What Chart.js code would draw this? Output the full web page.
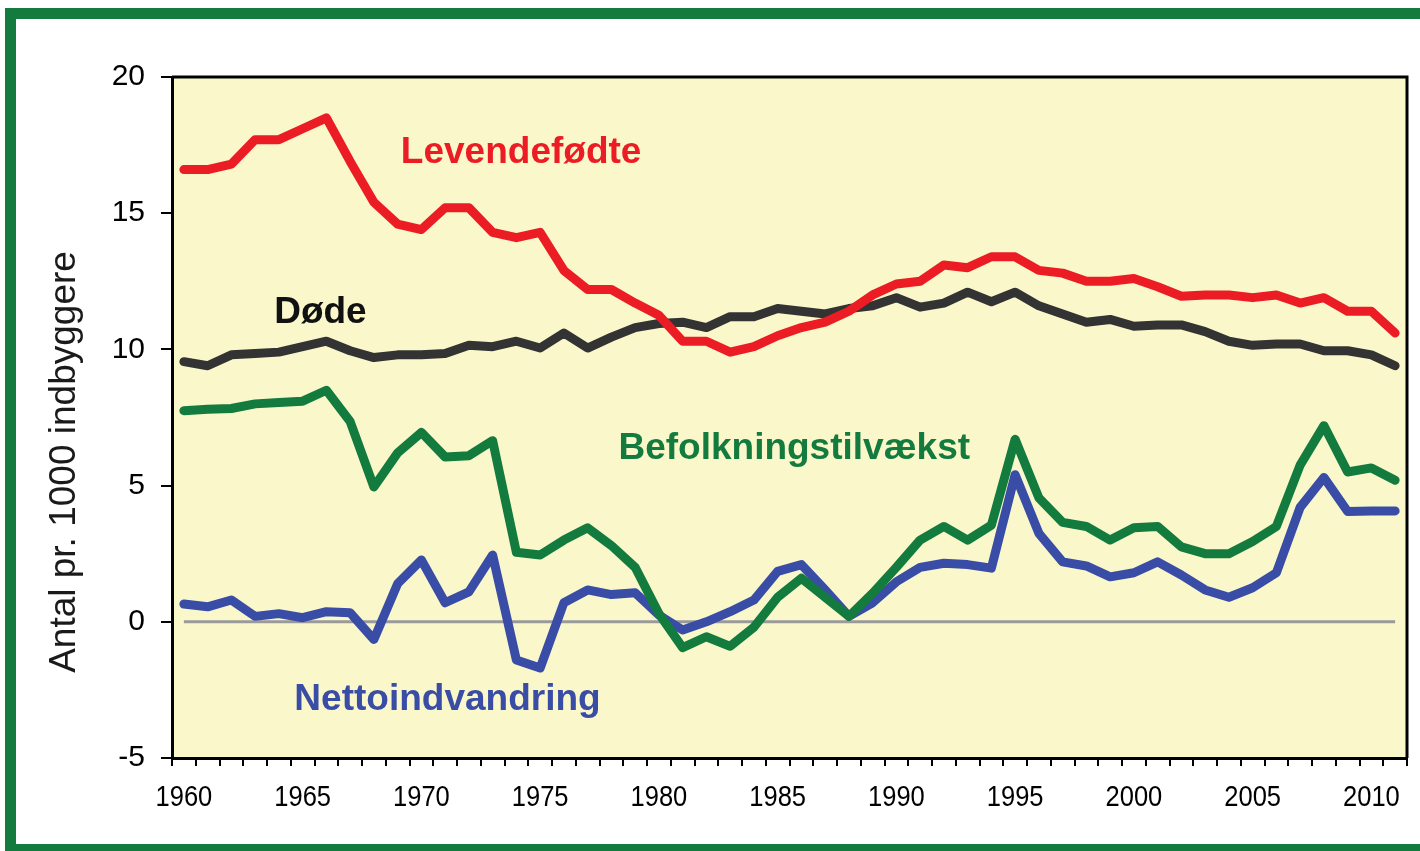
<!DOCTYPE html>
<html>
<head>
<meta charset="utf-8">
<script src="https://cdn.jsdelivr.net/npm/chart.js@4.4.1/dist/chart.umd.min.js"></script>
<style>
  html, body { margin: 0; padding: 0; background: #ffffff; overflow: hidden; }
  #frame { position: absolute; left: 5px; top: 8px; width: 1440px; height: 847px; box-sizing: border-box; border: 11px solid #137B3E; background: #ffffff; }
  #wrap { position: absolute; left: 0; top: 0; width: 1420px; height: 851px; }
</style>
</head>
<body>
<div id="frame"></div>
<div id="wrap"><canvas id="c" width="1420" height="851"></canvas></div>
<script>
// ---- Data (per 1000 inhabitants) ----
const years = [];
for (let y = 1960; y <= 2011; y++) years.push(String(y));

const levendefodte = [16.6,16.6,16.8,17.7,17.7,18.1,18.5,16.9,15.4,14.6,14.4,15.2,15.2,14.3,14.1,14.3,12.9,12.2,12.2,11.7,11.25,10.3,10.3,9.9,10.1,10.5,10.8,11.0,11.4,12.0,12.4,12.5,13.1,13.0,13.4,13.4,12.9,12.8,12.5,12.5,12.6,12.3,11.95,12.0,12.0,11.9,12.0,11.7,11.9,11.4,11.4,10.6];
const dode = [9.55,9.4,9.8,9.85,9.9,10.1,10.3,9.95,9.7,9.8,9.8,9.85,10.15,10.1,10.3,10.05,10.6,10.05,10.45,10.8,10.95,11.0,10.8,11.2,11.2,11.5,11.4,11.3,11.5,11.6,11.9,11.55,11.7,12.1,11.75,12.1,11.6,11.3,11.0,11.1,10.85,10.9,10.9,10.65,10.3,10.15,10.2,10.2,9.95,9.95,9.8,9.4];
const befolkningstilvaekst = [7.75,7.8,7.83,8.0,8.05,8.1,8.5,7.35,4.95,6.2,6.95,6.05,6.1,6.65,2.55,2.45,3.0,3.45,2.8,2.0,0.3,-0.95,-0.55,-0.9,-0.2,0.9,1.6,0.9,0.2,1.05,2.0,3.0,3.5,3.0,3.55,6.7,4.55,3.65,3.5,3.0,3.45,3.5,2.75,2.5,2.5,2.95,3.5,5.75,7.2,5.5,5.65,5.2];
const nettoindvandring = [0.65,0.55,0.8,0.2,0.3,0.15,0.37,0.33,-0.65,1.4,2.27,0.7,1.1,2.45,-1.4,-1.7,0.7,1.17,1.0,1.07,0.25,-0.3,0.0,0.37,0.8,1.85,2.1,1.17,0.2,0.7,1.47,2.0,2.15,2.1,1.97,5.4,3.25,2.2,2.05,1.65,1.8,2.2,1.72,1.17,0.9,1.25,1.8,4.2,5.3,4.05,4.07,4.07];
const nullinje = years.map(() => 0);

const yTicks = [-5, 0, 5, 10, 15, 20];
const xTickLabels = ['1960','1965','1970','1975','1980','1985','1990','1995','2000','2005','2010'];
const seriesNames = ['Levendefødte', 'Døde', 'Befolkningstilvækst', 'Nettoindvandring'];
const yTitle = 'Antal pr. 1000 indbyggere';

// ---- Annotation labels (x = category index, y = value) ----
const labelsOnChart = [
  { text: 'Levendefødte', x: 14.2, y: 17.2, color: '#EC1C24' },
  { text: 'Døde', x: 5.75, y: 11.35, color: '#111111' },
  { text: 'Befolkningstilvækst', x: 25.7, y: 6.35, color: '#137B3E' },
  { text: 'Nettoindvandring', x: 11.1, y: -2.85, color: '#3A4DA6' }
];

const plotBg = {
  id: 'plotBg',
  beforeDraw(chart) {
    const { ctx, chartArea: a } = chart;
    ctx.save();
    ctx.fillStyle = '#FAF8CB';
    ctx.fillRect(a.left, a.top, a.right - a.left, a.bottom - a.top);
    ctx.restore();
  },
  afterDraw(chart) {
    const { ctx, chartArea: a } = chart;
    const xs = chart.scales.x, ys = chart.scales.y;
    ctx.save();
    // plot frame (top/right)
    ctx.strokeStyle = '#000000';
    ctx.lineWidth = 3;
    ctx.beginPath();
    ctx.moveTo(a.left, a.top);
    ctx.lineTo(a.right, a.top);
    ctx.lineTo(a.right, a.bottom);
    ctx.stroke();
    // x tick labels (condensed)
    ctx.fillStyle = '#000000';
    ctx.font = '29px "Liberation Sans", Arial, sans-serif';
    ctx.textAlign = 'center';
    ctx.textBaseline = 'middle';
    xTickLabels.forEach(lbl => {
      const idx = years.indexOf(lbl);
      const px = xs.getPixelForValue(idx);
      ctx.save();
      ctx.translate(px, 798);
      ctx.scale(0.88, 1);
      ctx.fillText(lbl, 0, 0);
      ctx.restore();
    });
    // y axis title
    ctx.save();
    ctx.translate(65, 462);
    ctx.rotate(-Math.PI / 2);
    ctx.font = '37px "Liberation Sans", Arial, sans-serif';
    ctx.fillStyle = '#1a1a1a';
    ctx.fillText(yTitle, 0, 0);
    ctx.restore();
    // series labels
    ctx.font = 'bold 37px "Liberation Sans", Arial, sans-serif';
    labelsOnChart.forEach(l => {
      ctx.fillStyle = l.color;
      ctx.fillText(l.text, xs.getPixelForValue(l.x), ys.getPixelForValue(l.y));
    });
    ctx.restore();
  }
};

const common = { pointRadius: 0, borderWidth: 9, tension: 0, borderJoinStyle: 'round', borderCapStyle: 'round', fill: false };

new Chart(document.getElementById('c'), {
  type: 'line',
  data: {
    labels: years,
    datasets: [
      { label: seriesNames[0], data: levendefodte, borderColor: '#EC1C24', ...common },
      { label: seriesNames[1], data: dode, borderColor: '#333333', ...common },
      { label: seriesNames[2], data: befolkningstilvaekst, borderColor: '#137B3E', ...common },
      { label: seriesNames[3], data: nettoindvandring, borderColor: '#3A4DA6', ...common },
      { label: 'nul', data: nullinje, borderColor: '#9A9A9A', pointRadius: 0, borderWidth: 3, tension: 0, fill: false }
    ]
  },
  options: {
    responsive: false,
    animation: false,
    layout: { padding: { left: 0, top: 77, right: 13, bottom: 0 } },
    plugins: { legend: { display: false }, tooltip: { enabled: false } },
    scales: {
      x: {
        type: 'category',
        offset: true,
        border: { color: '#000000', width: 3 },
        grid: { display: true, drawOnChartArea: false, offset: true, tickLength: 8, color: '#000000', lineWidth: 2 },
        ticks: {
          autoSkip: false, maxRotation: 0, minRotation: 0, color: '#000000', padding: 14,
          font: { family: '"Liberation Sans", Arial, sans-serif', size: 29 },
          callback: function() { return ''; }
        },
        afterFit(s) { s.height = 93; }
      },
      y: {
        min: -5, max: 20,
        afterBuildTicks(s) { s.ticks = yTicks.map(v => ({ value: v })); },
        border: { color: '#000000', width: 3 },
        grid: { display: true, drawOnChartArea: false, tickLength: 11, color: '#000000', lineWidth: 2 },
        ticks: { color: '#000000', padding: 16, font: { family: '"Liberation Sans", Arial, sans-serif', size: 30 } },
        title: { display: false },
        afterFit(s) { s.width = 172; }
      }
    }
  },
  plugins: [plotBg]
});
</script>
</body>
</html>
